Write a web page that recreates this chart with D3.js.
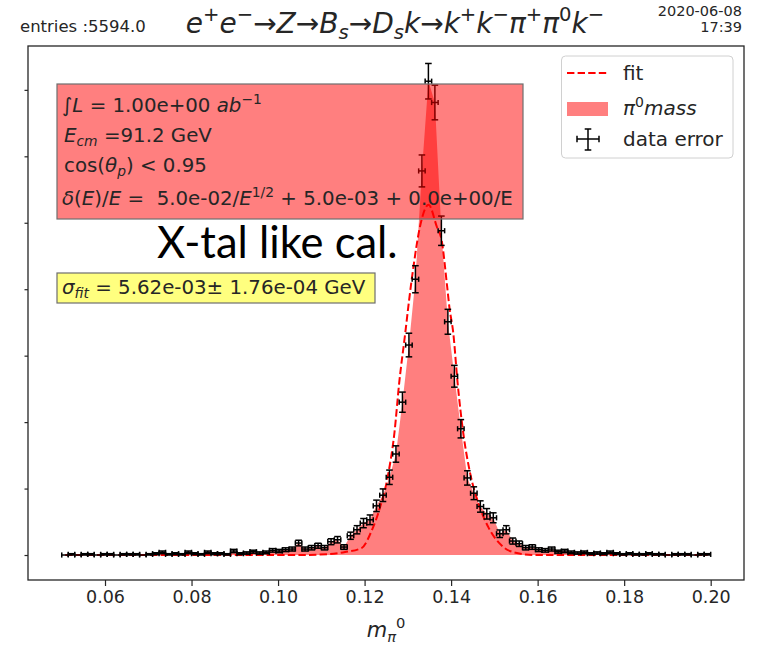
<!DOCTYPE html>
<html><head><meta charset="utf-8">
<script src="https://cdn.jsdelivr.net/npm/d3@7"></script>
<style>html,body{margin:0;padding:0;background:#fff;} svg{display:block;} text{white-space:pre;}</style>
</head><body><div id="chart"></div>
<script>
// ---------- data ----------
const binCenters = [
 0.05075,0.05225,0.05375,0.05525,0.05675,0.05825,0.05975,0.06125,0.06275,0.06425,
 0.06575,0.06725,0.06875,0.07025,0.07175,0.07325,0.07475,0.07625,0.07775,0.07925,
 0.08075,0.08225,0.08375,0.08525,0.08675,0.08825,0.08975,0.09125,0.09275,0.09425,
 0.09575,0.09725,0.09875,0.10025,0.10175,0.10325,0.10475,0.10625,0.10775,0.10925,
 0.11075,0.11225,0.11375,0.11525,0.11675,0.11825,0.11975,0.12125,0.12275,0.12425,
 0.12575,0.12725,0.12875,0.13025,0.13175,0.13325,0.13475,0.13625,0.13775,0.13925,
 0.14075,0.14225,0.14375,0.14525,0.14675,0.14825,0.14975,0.15125,0.15275,0.15425,
 0.15575,0.15725,0.15875,0.16025,0.16175,0.16325,0.16475,0.16625,0.16775,0.16925,
 0.17075,0.17225,0.17375,0.17525,0.17675,0.17825,0.17975,0.18125,0.18275,0.18425,
 0.18575,0.18725,0.18875,0.19025,0.19175,0.19325,0.19475,0.19625,0.19775,0.19925];
const counts = [
 0,1,0,1,1,0,1,1,0,1,
 1,1,0,1,2,4,1,2,1,4,
 2,1,4,2,2,1,6,2,3,5,
 3,4,7,6,8,9,18,9,11,14,
 11,20,23,12,29,38,48,53,74,90,
 117,152,230,316,415,578,713,681,488,351,
 269,190,116,93,73,62,56,32,38,21,
 17,11,12,8,7,9,5,6,4,3,
 4,2,3,2,4,2,1,2,1,1,
 2,1,1,0,1,1,1,0,1,1];
const countErrors = [
 0,1,0,1,1,0,1,1,0,1,
 1,1,0,1,1.41,2,1,1.41,1,2,
 1.41,1,2,1.41,1.41,1,2.45,1.41,1.73,2.24,
 1.73,2,2.65,2.45,2.83,3,4.24,3,3.32,3.74,
 3.32,4.47,4.8,3.46,5.39,6.16,6.93,7.28,8.6,9.49,
 10.82,12.33,15.17,17.78,20.37,24.04,26.7,26.1,22.09,18.73,
 16.4,13.78,10.77,9.64,8.54,7.87,7.48,5.66,6.16,4.58,
 4.12,3.32,3.46,2.83,2.65,3,2.24,2.45,2,1.73,
 2,1.41,1.73,1.41,2,1.41,1,1.41,1,1,
 1.41,1,1,0,1,1,1,0,1,1];
const binHalfWidth = 0.00075;
const fitX = [0.0508,0.1050,0.1120,0.1155,0.1193,0.1217,0.1236,0.1255,0.1269,0.1280,0.1294,0.1303,0.1313,0.1328,0.1348,
              0.1367,0.1378,0.1391,0.1396,0.1405,0.1415,0.1428,0.1444,0.1463,0.1486,0.1521,0.1552,0.1594,0.1650,0.1993];
const fitY = [0,0,1.5,4.5,10.5,37.6,72.3,123,184,259,334,384,434,494,527,
              494,474,403,373,334,259,184,123,78,42,12,3,0,0,0];
const xTicks = [0.06,0.08,0.10,0.12,0.14,0.16,0.18,0.20];
const yTicks = [0,100,200,300,400,500,600,700];
const legendLabels = ["fit","π0mass","data error"];

// ---------- layout ----------
const W = 760, H = 645;
const svg = d3.select("#chart").append("svg").attr("width",W).attr("height",H)
  .attr("font-family","DejaVu Sans");
const x = d3.scaleLinear().domain([0.0422,0.2077]).range([28,744]);
const y = d3.scaleLinear().domain([-37.6,766]).range([580,46]);

function rich(g, px, py, size, parts, anchor){
  const t = g.append("text").attr("x",px).attr("y",py).attr("font-size",size)
    .attr("text-anchor",anchor||"start").attr("fill","#000");
  let cur = 0;
  parts.forEach(p=>{
    const s = p[0], o = p[1]||{};
    const target = o.sup ? -0.42*size : (o.sub ? 0.22*size : 0);
    const ts = t.append("tspan").text(s).attr("dy", target-cur);
    cur = target;
    if(o.sup||o.sub) ts.attr("font-size", size*0.7);
    if(o.i) ts.attr("font-style","italic");
  });
  return t;
}

// fill under data
const pts = binCenters.map((c,i)=>({x:c,y:counts[i],e:countErrors[i]}));
svg.append("path").datum(pts)
  .attr("d", d3.area().x(d=>x(d.x)).y0(y(0)).y1(d=>y(d.y)))
  .attr("fill","rgba(255,0,0,0.5)");

// fit line
const fitPts = fitX.map((v,i)=>({x:v,y:fitY[i]}));
svg.append("path").datum(fitPts)
  .attr("d", d3.line().x(d=>x(d.x)).y(d=>y(d.y)).curve(d3.curveMonotoneX))
  .attr("fill","none").attr("stroke","#ff0000").attr("stroke-width",2)
  .attr("stroke-dasharray","7.4,3.2");

// error bars
const cap = 3.3, xcap = 2.6;
const eb = svg.append("g").attr("stroke","#000").attr("stroke-width",1.5);
pts.forEach(d=>{
  const cx = x(d.x), cy = y(d.y);
  const x0 = x(d.x-binHalfWidth), x1 = x(d.x+binHalfWidth);
  const y0 = y(d.y-d.e), y1 = y(d.y+d.e);
  eb.append("line").attr("x1",x0).attr("x2",x1).attr("y1",cy).attr("y2",cy);
  eb.append("line").attr("x1",x0).attr("x2",x0).attr("y1",cy-xcap).attr("y2",cy+xcap);
  eb.append("line").attr("x1",x1).attr("x2",x1).attr("y1",cy-xcap).attr("y2",cy+xcap);
  if(d.e>0){
    eb.append("line").attr("x1",cx).attr("x2",cx).attr("y1",y0).attr("y2",y1);
    eb.append("line").attr("x1",cx-cap).attr("x2",cx+cap).attr("y1",y0).attr("y2",y0);
    eb.append("line").attr("x1",cx-cap).attr("x2",cx+cap).attr("y1",y1).attr("y2",y1);
  }
});

// axes
const xAxis = svg.append("g").attr("transform","translate(0,580)")
  .call(d3.axisBottom(x).tickValues(xTicks).tickFormat(d3.format(".2f")).tickSizeOuter(0).tickSize(6).tickPadding(5));
xAxis.select(".domain").remove();
xAxis.selectAll("text").attr("font-size",17.5).attr("font-family","DejaVu Sans").attr("fill","#262626");
xAxis.selectAll("line").attr("stroke","#262626").attr("stroke-width",1.2);
const yAxis = svg.append("g").attr("transform","translate(28,0)")
  .call(d3.axisLeft(y).tickValues(yTicks).tickFormat("").tickSize(3.5).tickSizeOuter(0));
yAxis.select(".domain").remove();
yAxis.selectAll("line").attr("stroke","#262626").attr("stroke-width",1.2);
svg.append("rect").attr("x",28).attr("y",46).attr("width",716).attr("height",534)
  .attr("fill","none").attr("stroke","#262626").attr("stroke-width",1.3);

// info box (red)
const info = svg.append("g");
info.append("rect").attr("x",57).attr("y",84).attr("width",466).attr("height",135)
  .attr("fill","rgba(255,0,0,0.5)").attr("stroke","#6e6e6e").attr("stroke-width",1.2);
rich(info,62,112,19.8,[["∫"],["L",{i:1}],[" = 1.00e+00 "],["ab",{i:1}],["−1",{sup:1}]]).attr("fill","#262626");
rich(info,64,142,19.8,[["E",{i:1}],["cm",{i:1,sub:1}],[" =91.2 GeV"]]).attr("fill","#262626");
rich(info,64,172,19.8,[["cos("],["θ",{i:1}],["p",{i:1,sub:1}],[") < 0.95"]]).attr("fill","#262626");
rich(info,62,205,19.8,[["δ",{i:1}],["("],["E",{i:1}],[")/"],["E",{i:1}],[" =  5.0e-02/"],["E",{i:1}],["1/2",{sup:1}],[" + 5.0e-03 + 0.0e+00/E"]]).attr("fill","#262626");

// sigma box (yellow)
const sg = svg.append("g");
sg.append("rect").attr("x",57).attr("y",273).attr("width",318).attr("height",30)
  .attr("fill","rgba(255,255,0,0.5)").attr("stroke","#6e6e6e").attr("stroke-width",1.2);
rich(sg,62,294,19.8,[["σ",{i:1}],["fit",{i:1,sub:1}],[" = 5.62e-03± 1.76e-04 GeV"]]).attr("fill","#262626");

// big annotation
svg.append("text").attr("x",157).attr("y",258).attr("font-family","Lato").attr("font-size",43.5)
  .text("X-tal like cal.");

// legend
const lg = svg.append("g");
lg.append("rect").attr("x",561.5).attr("y",56).attr("width",171.5).attr("height",102).attr("rx",4)
  .attr("fill","rgba(255,255,255,0.8)").attr("stroke","#d0d0d0");
lg.append("line").attr("x1",567).attr("x2",608).attr("y1",73).attr("y2",73)
  .attr("stroke","#ff0000").attr("stroke-width",2).attr("stroke-dasharray","7.4,3.2");
lg.append("rect").attr("x",567).attr("y",102).attr("width",41).attr("height",14).attr("fill","rgba(255,0,0,0.5)");
const lc = lg.append("g").attr("stroke","#000").attr("stroke-width",1.5);
lc.append("line").attr("x1",577).attr("x2",599).attr("y1",139).attr("y2",139);
lc.append("line").attr("x1",588).attr("x2",588).attr("y1",129).attr("y2",150);
[[577,139,"v"],[599,139,"v"],[588,129,"h"],[588,150,"h"]].forEach(([cx,cy,o])=>{
  if(o==="v") lc.append("line").attr("x1",cx).attr("x2",cx).attr("y1",cy-cap).attr("y2",cy+cap);
  else lc.append("line").attr("x1",cx-cap).attr("x2",cx+cap).attr("y1",cy).attr("y2",cy);
});
rich(lg,623,80,20,[[legendLabels[0]]]).attr("fill","#262626");
rich(lg,623,115,20,[["π",{i:1}],["0",{sup:1}],["mass",{i:1}]]).attr("fill","#262626");
rich(lg,623,146,20,[[legendLabels[2]]]).attr("fill","#262626");

// header texts
svg.append("text").attr("x",20).attr("y",32).attr("font-size",16.5).attr("fill","#262626").text("entries :5594.0");
rich(svg,395,33,28,[["e",{i:1}],["+",{sup:1}],["e",{i:1}],["−",{sup:1}],["→"],["Z",{i:1}],["→"],["B",{i:1}],["s",{i:1,sub:1}],
  ["→"],["D",{i:1}],["s",{i:1,sub:1}],["k",{i:1}],["→"],["k",{i:1}],["+",{sup:1}],["k",{i:1}],["−",{sup:1}],
  ["π",{i:1}],["+",{sup:1}],["π",{i:1}],["0",{sup:1}],["k",{i:1}],["−",{sup:1}]],"middle").attr("fill","#262626");
svg.append("text").attr("x",742).attr("y",16).attr("font-size",14.5).attr("text-anchor","end").attr("fill","#262626").text("2020-06-08");
svg.append("text").attr("x",742).attr("y",32).attr("font-size",14.5).attr("text-anchor","end").attr("fill","#262626").text("17:39");

// x label
rich(svg,386,637,21,[["m",{i:1}],["π",{i:1,sub:1}],["0",{sup:1}]],"middle").attr("fill","#262626");
</script></body></html>
